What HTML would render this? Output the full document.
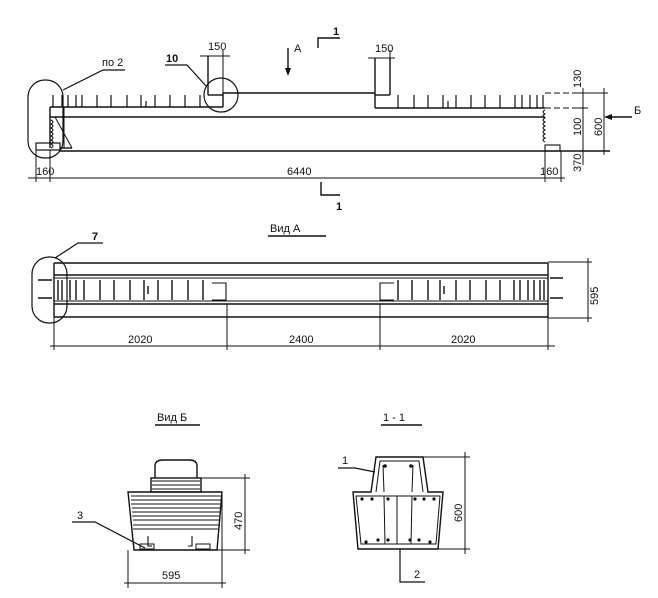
<!DOCTYPE html>
<html><head><meta charset="utf-8"><style>
html,body{margin:0;padding:0;background:#fff;}
svg{display:block}
text{font-family:"Liberation Sans","DejaVu Sans",sans-serif;fill:#111;}
</style></head><body>
<svg width="658" height="598" viewBox="0 0 658 598" xmlns="http://www.w3.org/2000/svg">
<g stroke="#111" stroke-width="1.4" fill="none">
<!-- ===== Elevation ===== -->
<line x1="223" y1="93" x2="375" y2="93"/>
<line x1="50" y1="107" x2="223" y2="107"/>
<line x1="223" y1="93" x2="223" y2="107"/>
<line x1="208" y1="56" x2="208" y2="95"/>
<line x1="208" y1="95" x2="223" y2="95"/>
<line x1="375" y1="58" x2="375" y2="108"/>
<line x1="390" y1="58" x2="390" y2="95"/>
<line x1="375" y1="95" x2="390" y2="95"/>
<line x1="375" y1="108" x2="545" y2="108"/>
<line x1="545" y1="93" x2="605" y2="93" stroke-dasharray="6 3" stroke-width="1"/>
<line x1="545" y1="108" x2="590" y2="108" stroke-dasharray="6 3" stroke-width="1"/>
<line x1="50" y1="117" x2="545" y2="117"/>
<line x1="60" y1="151" x2="610" y2="151"/>
<line x1="50" y1="107" x2="50" y2="148"/>
<line x1="64" y1="107" x2="64" y2="148" stroke-width="1"/>
<line x1="55" y1="117" x2="72" y2="148" stroke-width="1"/>
<rect x="36" y="143" width="24" height="7" stroke-width="1.2"/>
<line x1="60" y1="148" x2="72" y2="148"/>
<path d="M51 120 q4 2 0 4 q4 2 0 4 q4 2 0 4 q4 2 0 4 q4 2 0 4 q4 2 0 4 q4 2 0 4" stroke-width="1"/>
<path d="M545 110 q-4 2 0 4 q-4 2 0 4 q-4 2 0 4 q-4 2 0 4 q-4 2 0 4 q-4 2 0 4 q-4 2 0 4 q-4 2 0 4" stroke-width="1"/>
<rect x="545" y="145" width="15" height="6" stroke-width="1.1"/>
<!-- ribs -->
<path d="M53 95v12M62 95v12M68 95v12M76 95v12M82 95v12M97 95v12M111 95v12M127 95v12M141 95v12M146 101v6M155 95v12M170 95v12M185 95v12M200 95v12
M398 95v13M414 95v13M428 95v13M443 95v13M448 101v7M456 95v13M471 95v13M485 95v13M500 95v13M515 95v13M522 95v13M530 95v13M537 95v13M543 95v13" stroke-width="1.2"/>
<!-- circles -->
<rect x="28" y="80" width="35" height="78" rx="17" stroke-width="1.2"/>
<circle cx="221" cy="95" r="17" stroke-width="1.2"/>
<polyline points="63,90 103,70 125,70" stroke-width="1.2"/>
<polyline points="165,65 187,65 206,86" stroke-width="1.2"/>
<!-- 150 dims -->
<line x1="200" y1="56" x2="230" y2="56" stroke-width="1"/>
<line x1="223" y1="50" x2="223" y2="93" stroke-width="1"/>
<line x1="368" y1="58" x2="395" y2="58" stroke-width="1"/>
<line x1="390" y1="50" x2="390" y2="58" stroke-width="1"/>
<!-- A arrow -->
<line x1="288" y1="48" x2="288" y2="70"/>
<!-- section 1 -->
<polyline points="318,48 318,38 340,38" />
<polyline points="321,182 321,195 340,195"/>
<!-- dims elevation -->
<line x1="28" y1="178" x2="565" y2="178" stroke-width="1.1"/>
<line x1="36" y1="150" x2="36" y2="182" stroke-width="1"/>
<line x1="50" y1="150" x2="50" y2="182" stroke-width="1"/>
<line x1="545" y1="151" x2="545" y2="182" stroke-width="1"/>
<line x1="561" y1="151" x2="561" y2="182" stroke-width="1"/>
<line x1="583" y1="88" x2="583" y2="165" stroke-width="1"/>
<line x1="604" y1="88" x2="604" y2="155" stroke-width="1"/>
<line x1="578" y1="93" x2="608" y2="93" stroke-width="1"/>
<line x1="578" y1="108" x2="588" y2="108" stroke-width="1"/>
<line x1="612" y1="117" x2="632" y2="117"/>
<!-- ===== View A ===== -->
<line x1="54" y1="263" x2="548" y2="263"/>
<line x1="54" y1="317" x2="548" y2="317"/>
<line x1="54" y1="263" x2="54" y2="317"/>
<line x1="548" y1="263" x2="548" y2="317"/>
<line x1="54" y1="275" x2="548" y2="275"/>
<line x1="54" y1="278" x2="548" y2="278" stroke-width="1"/>
<line x1="54" y1="301" x2="548" y2="301" stroke-width="1"/>
<line x1="54" y1="304" x2="548" y2="304"/>
<path d="M58 280v20M62 280v20M70 280v20M76 280v20M84 280v20M100 280v20M114 280v20M130 280v20M144 280v20M148 286v8M158 280v20M172 280v20M188 280v20M203 280v20
M398 280v20M412 280v20M428 280v20M440 280v20M444 286v8M456 280v20M470 280v20M486 280v20M500 280v20M514 280v20M520 280v20M528 280v20M534 280v20M540 280v20M544 280v20" stroke-width="1.4"/>
<path d="M212 283h14v17h-14M394 283h-14v17h14" stroke-width="1.1"/>
<path d="M550 278h13M550 298h13M38 280h14M38 298h14" stroke-width="1.5"/>
<line x1="227" y1="304" x2="227" y2="350" stroke-width="1"/>
<line x1="380" y1="304" x2="380" y2="350" stroke-width="1"/>
<line x1="54" y1="317" x2="54" y2="350" stroke-width="1"/>
<line x1="548" y1="317" x2="548" y2="350" stroke-width="1"/>
<line x1="50" y1="346" x2="555" y2="346" stroke-width="1.1"/>
<line x1="548" y1="262" x2="592" y2="262" stroke-width="1"/>
<line x1="548" y1="318" x2="592" y2="318" stroke-width="1"/>
<line x1="588" y1="258" x2="588" y2="322" stroke-width="1"/>
<rect x="32" y="257" width="35" height="66" rx="17" stroke-width="1.2"/>
<polyline points="55,258 78,243 103,243" stroke-width="1.2"/>
<line x1="268" y1="236" x2="326" y2="236"/>
<!-- ===== View B ===== -->
<line x1="155" y1="425" x2="200" y2="425"/>
<path d="M155 478 V466 q0-6 8-6 h26 q8 0 8 6 V478"/>
<rect x="151" y="478" width="50" height="14"/>
<polygon points="128,492 222,492 217,550 134,550"/>
<path d="M152 481h48M152 485h48M152 489h48M131 496h90M131 500h90M131 504h89M132 508h88M132 512h88M132 516h87M133 520h86M133 525h86M133 529h85" stroke-width="0.9"/>
<path d="M148 536v10h4M192 536v10h-4" stroke-width="1.1"/>
<rect x="140" y="544" width="14" height="5" stroke-width="1"/>
<rect x="196" y="544" width="14" height="5" stroke-width="1"/>
<line x1="201" y1="478" x2="250" y2="478" stroke-width="1"/>
<line x1="217" y1="550" x2="250" y2="550" stroke-width="1"/>
<line x1="245" y1="474" x2="245" y2="554" stroke-width="1"/>
<line x1="128" y1="550" x2="128" y2="588" stroke-width="1"/>
<line x1="222" y1="492" x2="222" y2="588" stroke-width="1"/>
<line x1="124" y1="583" x2="226" y2="583" stroke-width="1"/>
<polyline points="72,522 95,522 145,548" stroke-width="1.2"/>
<!-- ===== 1-1 ===== -->
<line x1="381" y1="425" x2="422" y2="425"/>
<path d="M376 457 H423 L428 492 H443 L438 549 H358 L353 492 H371 Z"/>
<path d="M380 461 H419 L423 492" stroke-width="1"/>
<path d="M380 461 L376 492" stroke-width="1"/>
<path d="M356 496 H440 L436 544 H361 Z" stroke-width="1"/>
<line x1="384" y1="496" x2="385" y2="544" stroke-width="1"/>
<line x1="397" y1="496" x2="397" y2="544" stroke-width="1"/>
<line x1="412" y1="496" x2="411" y2="544" stroke-width="1"/>
<line x1="383" y1="465" x2="384" y2="492" stroke-width="1"/>
<line x1="413" y1="465" x2="412" y2="492" stroke-width="1"/>
<line x1="423" y1="457" x2="470" y2="457" stroke-width="1"/>
<line x1="438" y1="549" x2="470" y2="549" stroke-width="1"/>
<line x1="465" y1="452" x2="465" y2="554" stroke-width="1"/>
<polyline points="338,468 355,468 375,472" stroke-width="1.2"/>
<polyline points="400,549 400,582 425,582" stroke-width="1.2"/>
</g>
<g fill="#111">
<path d="M285 68 L288 76 L291 68 Z"/>
<path d="M612 114 L604 117 L612 120 Z"/>
<circle cx="385" cy="466" r="1.8"/><circle cx="411" cy="466" r="1.8"/>
<circle cx="362" cy="499" r="1.6"/><circle cx="372" cy="499" r="1.6"/><circle cx="388" cy="499" r="1.6"/>
<circle cx="415" cy="499" r="1.6"/><circle cx="424" cy="499" r="1.6"/><circle cx="434" cy="499" r="1.6"/>
<circle cx="366" cy="542" r="1.6"/><circle cx="378" cy="540" r="1.6"/><circle cx="388" cy="540" r="1.6"/>
<circle cx="410" cy="540" r="1.6"/><circle cx="419" cy="540" r="1.6"/><circle cx="430" cy="542" r="1.6"/>
</g>
<g font-size="11">
<text x="102" y="66">по 2</text>
<text x="166" y="62" font-weight="bold">10</text>
<text x="208" y="50">150</text>
<text x="375" y="52">150</text>
<text x="294" y="52">А</text>
<text x="333" y="35" font-weight="bold">1</text>
<text x="336" y="210" font-weight="bold">1</text>
<text x="36" y="175">160</text>
<text x="287" y="175">6440</text>
<text x="540" y="175">160</text>
<text x="634" y="114">Б</text>
<text transform="translate(581,88) rotate(-90)">130</text>
<text transform="translate(581,136) rotate(-90)">100</text>
<text transform="translate(581,172) rotate(-90)">370</text>
<text transform="translate(602,136) rotate(-90)">600</text>
<text x="270" y="232">Вид А</text>
<text x="92" y="240" font-weight="bold">7</text>
<text x="128" y="343">2020</text>
<text x="289" y="343">2400</text>
<text x="451" y="343">2020</text>
<text transform="translate(598,305) rotate(-90)">595</text>
<text x="157" y="421">Вид Б</text>
<text x="383" y="421">1 - 1</text>
<text x="77" y="519">3</text>
<text transform="translate(242,530) rotate(-90)">470</text>
<text x="162" y="579">595</text>
<text x="342" y="464">1</text>
<text x="414" y="578">2</text>
<text transform="translate(462,522) rotate(-90)">600</text>
</g>
</svg>
</body></html>
